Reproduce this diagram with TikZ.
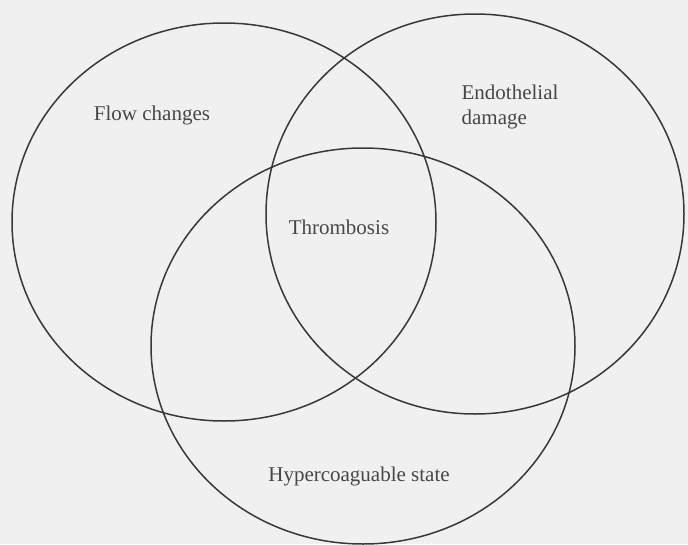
\documentclass[tikz,border=0pt]{standalone}
\usepackage{fontspec}
\setmainfont{Liberation Serif}
\usepackage{tikz}

\tikzset{
    setring/.style={line width=1.5pt, draw=black!78},
    setlabel/.style={font=\fontsize{21}{25}\selectfont, text=black!72, inner sep=0pt},
}

\begin{document}
\begin{tikzpicture}[x=1pt, y=-1pt]
    \fill[black!6] (0,0) rectangle (688,544);
    \useasboundingbox (0,0) rectangle (688,544);
    % the three sets
    \draw[setring] (224,222) ellipse [x radius=212, y radius=199];
    \draw[setring] (475,214) ellipse [x radius=209, y radius=200];
    \draw[setring] (363,346) ellipse [x radius=212, y radius=198];
    % labels
    \node[setlabel] (flow) at (152,115) {Flow changes};
    \node[setlabel, align=left] (endo) at (510,107) {Endothelial\\damage};
    \node[setlabel] (thromb) at (339,227) {Thrombosis};
    \node[setlabel] (hyper) at (359,476) {Hypercoaguable state};
\end{tikzpicture}
\end{document}
